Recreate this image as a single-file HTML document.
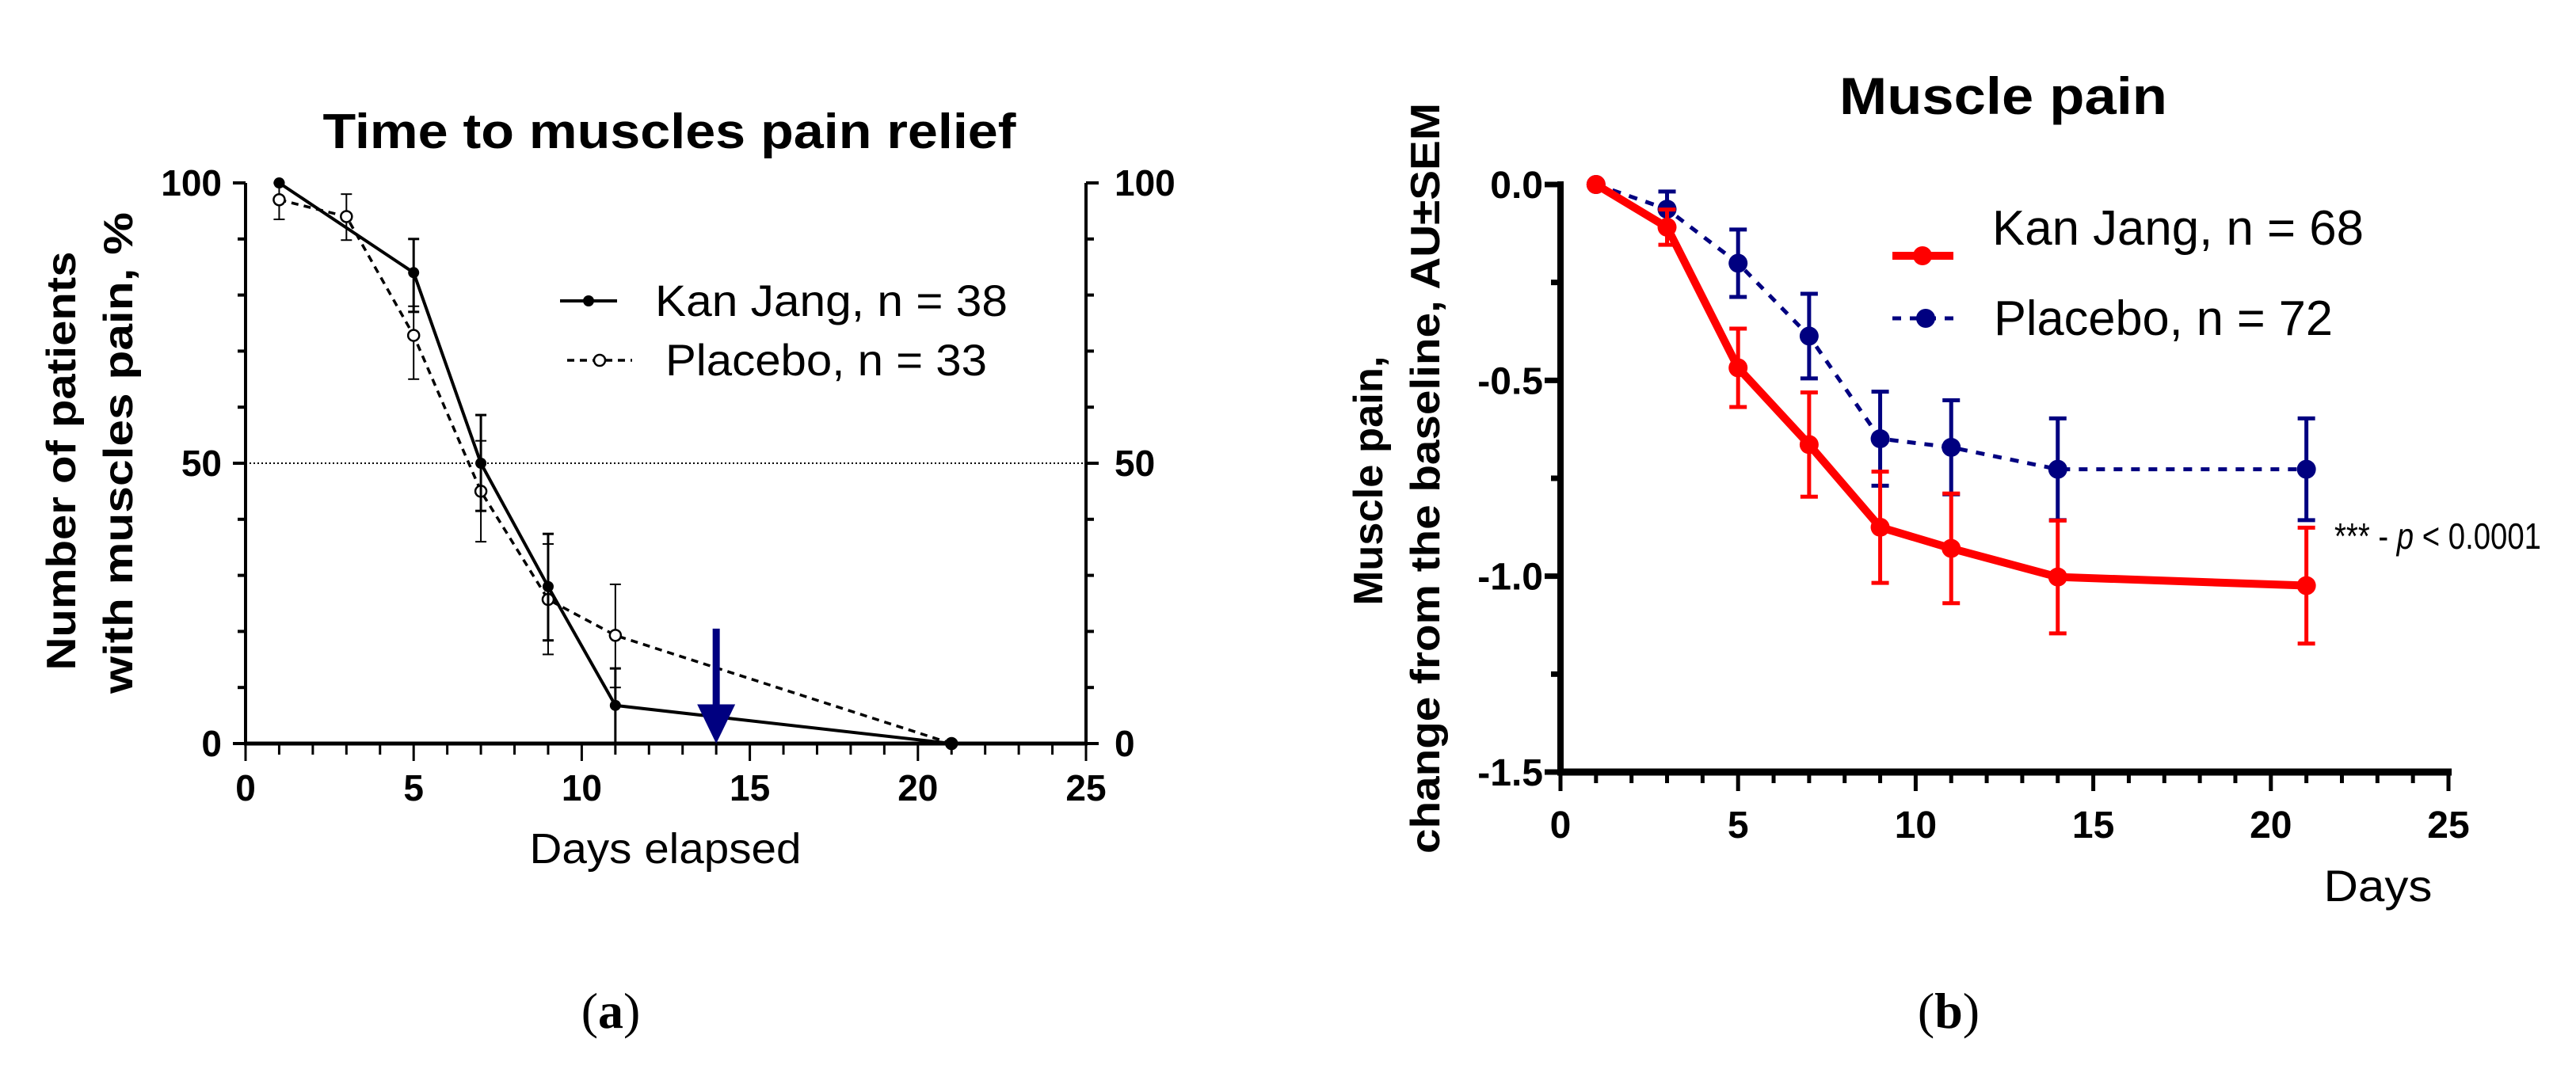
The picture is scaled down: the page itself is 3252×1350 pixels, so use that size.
<!DOCTYPE html>
<html><head><meta charset="utf-8"><style>
html,body{margin:0;padding:0;background:#fff;}
svg{display:block;font-family:"Liberation Sans",Arial,sans-serif;}
</style></head><body>
<svg id="fig" width="3252" height="1350" viewBox="0 0 3252 1350" xmlns="http://www.w3.org/2000/svg">
<g id="A"></g>
<g id="B"></g>
</svg>
<script>
// ---- Panel (a) data ----
const daysA_kan = [1, 5, 7, 9, 11, 21];
const valsA_kan = [100, 84, 50, 28, 6.8, 0];
const errLoA_kan = [100, 77, 41.5, 18.4, 0, 0];
const errHiA_kan = [100, 90, 58.6, 37.4, 13.4, 0];
const daysA_pla = [1, 3, 5, 7, 9, 11, 21];
const valsA_pla = [97, 94, 72.8, 45, 25.7, 19.3, 0];
const errLoA_pla = [93.5, 89.8, 65, 36, 15.9, 10, 0];
const errHiA_pla = [100, 98, 78, 54, 35.6, 28.4, 0];
const ticksA_x = [0, 5, 10, 15, 20, 25];
const ticksA_y = [0, 50, 100];
const arrowA = [14, 20.5];
// ---- Panel (b) data ----
const daysB = [1, 3, 5, 7, 9, 11, 14, 21];
const valsB_kan = [0, -0.109, -0.468, -0.664, -0.875, -0.929, -1.002, -1.024];
const semB_kan = [0, 0.045, 0.1, 0.133, 0.142, 0.14, 0.144, 0.148];
const valsB_pla = [0, -0.063, -0.201, -0.387, -0.649, -0.671, -0.727, -0.727];
const semB_pla = [0, 0.045, 0.086, 0.108, 0.12, 0.12, 0.13, 0.13];
const ticksB_x = [0, 5, 10, 15, 20, 25];
const ticksB_y = [0, -0.5, -1.0, -1.5];
const ticksB_yLabels = ["0.0", "-0.5", "-1.0", "-1.5"];

const NS = "http://www.w3.org/2000/svg";
function mk(parent, tag, attrs, text){
  const e = document.createElementNS(NS, tag);
  for (const k in attrs) e.setAttribute(k, attrs[k]);
  if (text !== undefined) e.textContent = text;
  parent.appendChild(e);
  return e;
}

// ===== Panel A =====
const A = document.getElementById('A');
const ax = d => 310 + (d/25)*(1371-310);
const ay = v => 939 - (v/100)*(939-231);

let t = mk(A,'text',{x:845,y:187,'font-size':62,'font-weight':'bold','text-anchor':'middle',textLength:875,lengthAdjust:'spacingAndGlyphs'},'Time to muscles pain relief');
 

let rl = mk(A,'line',{x1:ax(0),x2:ax(25),y1:ay(50),y2:ay(50),stroke:'#000','stroke-width':2,'stroke-dasharray':'2 3'});
 

let axl = mk(A,'g',{});
 
mk(axl,'line',{x1:ax(0),x2:ax(0),y1:ay(100),y2:ay(0)+2,stroke:'#000','stroke-width':4});
for (let v=0; v<=100; v+=10){
  const L = (v%50===0)?16:10;
  mk(axl,'line',{x1:ax(0)-L,x2:ax(0),y1:ay(v),y2:ay(v),stroke:'#000','stroke-width':4});
}
ticksA_y.forEach(v=>{
  const tl = mk(axl,'text',{x:ax(0)-30,y:ay(v)+16,'font-size':46,'font-weight':'bold','text-anchor':'end'},String(v));
   
});
let axr = mk(A,'g',{});
 
mk(axr,'line',{x1:ax(25),x2:ax(25),y1:ay(100),y2:ay(0)+2,stroke:'#000','stroke-width':4});
for (let v=0; v<=100; v+=10){
  const L = (v%50===0)?16:10;
  mk(axr,'line',{x1:ax(25),x2:ax(25)+L,y1:ay(v),y2:ay(v),stroke:'#000','stroke-width':4});
}
ticksA_y.forEach(v=>{
  const tl = mk(axr,'text',{x:ax(25)+36,y:ay(v)+16,'font-size':46,'font-weight':'bold','text-anchor':'start'},String(v));
   
});
let axb = mk(A,'g',{});
 
mk(axb,'line',{x1:ax(0)-2,x2:ax(25)+2,y1:ay(0),y2:ay(0),stroke:'#000','stroke-width':5});
for (let d=0; d<=25; d++){
  const L = (d%5===0)?22:14;
  mk(axb,'line',{x1:ax(d),x2:ax(d),y1:ay(0),y2:ay(0)+L,stroke:'#000','stroke-width':3});
}
ticksA_x.forEach(d=>{
  const tl = mk(axb,'text',{x:ax(d),y:1011,'font-size':46,'font-weight':'bold','text-anchor':'middle'},String(d));
   
});
t = mk(A,'text',{x:840,y:1090,'font-size':54,'text-anchor':'middle',textLength:343,lengthAdjust:'spacingAndGlyphs'},'Days elapsed');
 

let yt = mk(A,'g',{'font-size':52,'font-weight':'bold','text-anchor':'middle'});
 
mk(yt,'text',{x:0,y:0,transform:'translate(95,582) rotate(-90)',textLength:529,lengthAdjust:'spacingAndGlyphs'},'Number of patients');
mk(yt,'text',{x:0,y:0,transform:'translate(167,572) rotate(-90)',textLength:608,lengthAdjust:'spacingAndGlyphs'},'with muscles pain, %');

let gp = mk(A,'g',{});
 
mk(gp,'polyline',{points:daysA_pla.map((d,i)=>ax(d)+','+ay(valsA_pla[i])).join(' '),fill:'none',stroke:'#000','stroke-width':3.5,'stroke-dasharray':'9 7'});
daysA_pla.forEach((d,i)=>{
  const e = mk(gp,'g',{});
   
  mk(e,'line',{x1:ax(d),x2:ax(d),y1:ay(errLoA_pla[i]),y2:ay(errHiA_pla[i]),stroke:'#000','stroke-width':2});
  mk(e,'line',{x1:ax(d)-7,x2:ax(d)+7,y1:ay(errLoA_pla[i]),y2:ay(errLoA_pla[i]),stroke:'#000','stroke-width':2});
  mk(e,'line',{x1:ax(d)-7,x2:ax(d)+7,y1:ay(errHiA_pla[i]),y2:ay(errHiA_pla[i]),stroke:'#000','stroke-width':2});
  const c = mk(gp,'circle',{cx:ax(d),cy:ay(valsA_pla[i]),r:7,fill:'#fff',stroke:'#000','stroke-width':2.5});
   
});
let gk = mk(A,'g',{});
 
mk(gk,'polyline',{points:daysA_kan.map((d,i)=>ax(d)+','+ay(valsA_kan[i])).join(' '),fill:'none',stroke:'#000','stroke-width':4});
daysA_kan.forEach((d,i)=>{
  const e = mk(gk,'g',{});
   
  mk(e,'line',{x1:ax(d),x2:ax(d),y1:ay(errLoA_kan[i]),y2:ay(errHiA_kan[i]),stroke:'#000','stroke-width':3});
  mk(e,'line',{x1:ax(d)-7,x2:ax(d)+7,y1:ay(errLoA_kan[i]),y2:ay(errLoA_kan[i]),stroke:'#000','stroke-width':3});
  mk(e,'line',{x1:ax(d)-7,x2:ax(d)+7,y1:ay(errHiA_kan[i]),y2:ay(errHiA_kan[i]),stroke:'#000','stroke-width':3});
  const c = mk(gk,'circle',{cx:ax(d),cy:ay(valsA_kan[i]),r:7,fill:'#000'});
   
});
let ar = mk(A,'g',{});
 
mk(ar,'line',{x1:ax(arrowA[0]),x2:ax(arrowA[0]),y1:ay(arrowA[1]),y2:ay(6),stroke:'#000080','stroke-width':9});
mk(ar,'polygon',{points:`${ax(arrowA[0])-24},${ay(7)} ${ax(arrowA[0])+24},${ay(7)} ${ax(arrowA[0])},${ay(0)}`,fill:'#000080'});
let lg = mk(A,'g',{});
 
let le = mk(lg,'g',{});
 
mk(le,'line',{x1:707,x2:779,y1:380,y2:380,stroke:'#000','stroke-width':4});
mk(le,'circle',{cx:743,cy:380,r:7,fill:'#000'});
mk(le,'text',{x:827,y:399,'font-size':56,textLength:445,lengthAdjust:'spacingAndGlyphs'},'Kan Jang, n = 38');
le = mk(lg,'g',{});
 
mk(le,'line',{x1:716,x2:798,y1:455,y2:455,stroke:'#000','stroke-width':3.5,'stroke-dasharray':'9 7'});
mk(le,'circle',{cx:757,cy:455,r:7,fill:'#fff',stroke:'#000','stroke-width':2.5});
mk(le,'text',{x:840,y:474,'font-size':56,textLength:406,lengthAdjust:'spacingAndGlyphs'},'Placebo, n = 33');

t = mk(A,'text',{x:771,y:1298,'font-size':64,'font-family':'"Liberation Serif",serif','text-anchor':'middle'});
 
t.innerHTML = '(<tspan font-weight="bold">a</tspan>)';

// ===== Panel B =====
const B = document.getElementById('B');
const bx = d => 1970 + (d/25)*(3091-1970);
const by = v => 233 + (-v/1.5)*(975-233);

t = mk(B,'text',{x:2529,y:144,'font-size':66,'font-weight':'bold','text-anchor':'middle',textLength:414,lengthAdjust:'spacingAndGlyphs'},'Muscle pain');
 

let byax = mk(B,'g',{});
 
mk(byax,'line',{x1:bx(0),x2:bx(0),y1:by(0)-4,y2:by(-1.5)+4,stroke:'#000','stroke-width':8});
for (let k=0; k<=6; k++){
  const v = -k*0.25;
  const L = (k%2===0)?20:12;
  mk(byax,'line',{x1:bx(0)-L,x2:bx(0),y1:by(v),y2:by(v),stroke:'#000','stroke-width':7});
}
ticksB_y.forEach((v,i)=>{
  const tl = mk(byax,'text',{x:1948,y:by(v)+17,'font-size':48,'font-weight':'bold','text-anchor':'end'},ticksB_yLabels[i]);
   
});
let bxax = mk(B,'g',{});
 
mk(bxax,'line',{x1:bx(0)-4,x2:bx(25)+4,y1:by(-1.5),y2:by(-1.5),stroke:'#000','stroke-width':9});
for (let d=0; d<=25; d++){
  const L = (d%5===0)?24:14;
  mk(bxax,'line',{x1:bx(d),x2:bx(d),y1:by(-1.5),y2:by(-1.5)+L,stroke:'#000','stroke-width':5});
}
ticksB_x.forEach(d=>{
  const tl = mk(bxax,'text',{x:bx(d),y:1058,'font-size':48,'font-weight':'bold','text-anchor':'middle'},String(d));
   
});
t = mk(B,'text',{x:3002,y:1138,'font-size':56,'text-anchor':'middle',textLength:137,lengthAdjust:'spacingAndGlyphs'},'Days');
 

yt = mk(B,'g',{'font-size':52,'font-weight':'bold','text-anchor':'middle'});
 
mk(yt,'text',{x:0,y:0,transform:'translate(1745,607) rotate(-90)',textLength:315,lengthAdjust:'spacingAndGlyphs'},'Muscle pain,');
mk(yt,'text',{x:0,y:0,transform:'translate(1817,604) rotate(-90)',textLength:948,lengthAdjust:'spacingAndGlyphs'},'change from the baseline, AU±SEM');

gp = mk(B,'g',{});
 
mk(gp,'polyline',{points:daysB.map((d,i)=>bx(d)+','+by(valsB_pla[i])).join(' '),fill:'none',stroke:'#000080','stroke-width':5,'stroke-dasharray':'11 11'});
daysB.forEach((d,i)=>{
  if (semB_pla[i] > 0){
    const e = mk(gp,'g',{});
     
    const lo = by(valsB_pla[i]-semB_pla[i]), hi = by(valsB_pla[i]+semB_pla[i]);
    mk(e,'line',{x1:bx(d),x2:bx(d),y1:lo,y2:hi,stroke:'#000080','stroke-width':5});
    mk(e,'line',{x1:bx(d)-11,x2:bx(d)+11,y1:lo,y2:lo,stroke:'#000080','stroke-width':5});
    mk(e,'line',{x1:bx(d)-11,x2:bx(d)+11,y1:hi,y2:hi,stroke:'#000080','stroke-width':5});
  }
  const c = mk(gp,'circle',{cx:bx(d),cy:by(valsB_pla[i]),r:12,fill:'#000080'});
   
});
gk = mk(B,'g',{});
 
mk(gk,'polyline',{points:daysB.map((d,i)=>bx(d)+','+by(valsB_kan[i])).join(' '),fill:'none',stroke:'#ff0000','stroke-width':10,'stroke-linejoin':'round'});
daysB.forEach((d,i)=>{
  if (semB_kan[i] > 0){
    const e = mk(gk,'g',{});
     
    const lo = by(valsB_kan[i]-semB_kan[i]), hi = by(valsB_kan[i]+semB_kan[i]);
    mk(e,'line',{x1:bx(d),x2:bx(d),y1:lo,y2:hi,stroke:'#ff0000','stroke-width':5});
    mk(e,'line',{x1:bx(d)-11,x2:bx(d)+11,y1:lo,y2:lo,stroke:'#ff0000','stroke-width':5});
    mk(e,'line',{x1:bx(d)-11,x2:bx(d)+11,y1:hi,y2:hi,stroke:'#ff0000','stroke-width':5});
  }
  const c = mk(gk,'circle',{cx:bx(d),cy:by(valsB_kan[i]),r:12,fill:'#ff0000'});
   
});
lg = mk(B,'g',{});
 
le = mk(lg,'g',{});
 
mk(le,'line',{x1:2389,x2:2466,y1:323,y2:323,stroke:'#ff0000','stroke-width':10});
mk(le,'circle',{cx:2427,cy:323,r:12,fill:'#ff0000'});
mk(le,'text',{x:2515,y:309,'font-size':62,textLength:469,lengthAdjust:'spacingAndGlyphs'},'Kan Jang, n = 68');
le = mk(lg,'g',{});
 
mk(le,'line',{x1:2389,x2:2476,y1:402,y2:402,stroke:'#000080','stroke-width':5,'stroke-dasharray':'11 11'});
mk(le,'circle',{cx:2431,cy:402,r:12,fill:'#000080'});
mk(le,'text',{x:2517,y:423,'font-size':62,textLength:428,lengthAdjust:'spacingAndGlyphs'},'Placebo, n = 72');

t = mk(B,'text',{x:2947,y:693,'font-size':46,textLength:261,lengthAdjust:'spacingAndGlyphs'});
 
t.innerHTML = '*** - <tspan font-style="italic">p</tspan> &lt; 0.0001';

t = mk(B,'text',{x:2460,y:1298,'font-size':64,'font-family':'"Liberation Serif",serif','text-anchor':'middle'});
 
t.innerHTML = '(<tspan font-weight="bold">b</tspan>)';
</script>
</body></html>
